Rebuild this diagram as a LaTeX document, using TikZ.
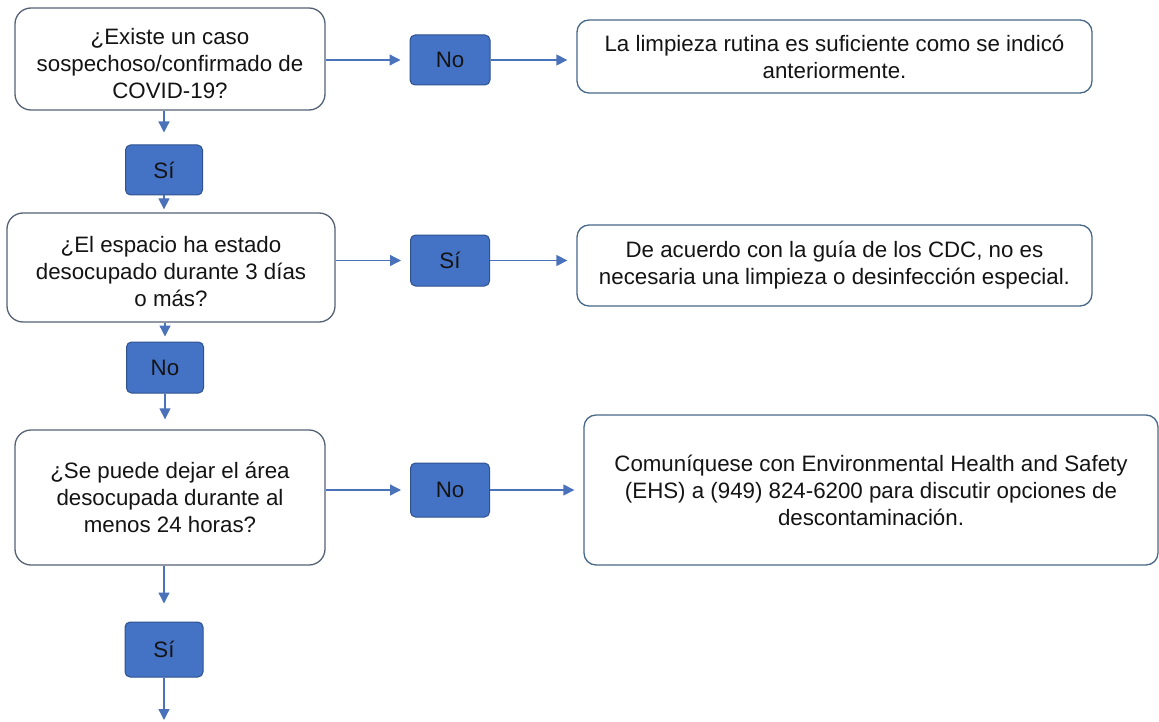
\documentclass[tikz,border=0pt]{standalone}
\usepackage{fontspec}
\setmainfont{Liberation Sans}
\usetikzlibrary{arrows.meta}
\definecolor{arr}{RGB}{74,114,186}
\definecolor{bfill}{RGB}{68,114,196}
\definecolor{bdraw}{RGB}{47,82,143}
\definecolor{qdraw}{RGB}{84,98,116}
\definecolor{rdraw}{RGB}{72,104,136}
\begin{document}
\begin{tikzpicture}[x=1pt,y=-1pt,
  every node/.style={font=\fontsize{22.3}{27}\selectfont, text=black!92, align=center, inner sep=0pt},
  qbox/.style={draw=qdraw, line width=1.3pt, rounded corners=16pt, fill=white},
  ans/.style={draw=bdraw, fill=bfill, line width=1pt, rounded corners=5pt},
  rbox/.style={draw=rdraw, line width=1.3pt, rounded corners=12pt, fill=white},
  conn/.style={draw=arr, line width=1.3pt, -{Triangle[length=11pt,width=11pt]}, shorten >=#1},
  conn/.default=9pt]
\useasboundingbox (0,0) rectangle (1159,722);
\node[qbox, minimum width=310pt, minimum height=102pt] (q1) at (170,59) {\rule{0pt}{26pt}¿Existe un caso\\sospechoso/confirmado de\\COVID-19?};
\node[ans, minimum width=80pt, minimum height=50pt] (n1) at (450,60) {No};
\node[rbox, minimum width=515pt, minimum height=73pt] (r1) at (834.5,56.5) {La limpieza rutina es suficiente como se indicó\\anteriormente.};
\node[ans, minimum width=77pt, minimum height=50pt] (s1) at (164,170) {Sí};
\node[qbox, minimum width=328pt, minimum height=109pt] (q2) at (171,267.5) {\rule{0pt}{24pt}¿El espacio ha estado\\desocupado durante 3 días\\o más?};
\node[ans, minimum width=79pt, minimum height=51pt] (s2) at (450,260.5) {Sí};
\node[rbox, minimum width=515pt, minimum height=81pt] (r2) at (834.5,265.5) {De acuerdo con la guía de los CDC, no es\\necesaria una limpieza o desinfección especial.};
\node[ans, minimum width=77pt, minimum height=51pt] (n2) at (165,367.5) {No};
\node[qbox, minimum width=310pt, minimum height=135pt] (q3) at (170,497.5) {¿Se puede dejar el área\\desocupada durante al\\menos 24 horas?};
\node[ans, minimum width=79pt, minimum height=54pt] (n3) at (450,490) {No};
\node[rbox, minimum width=574pt, minimum height=150pt] (r3) at (871,490) {Comuníquese con Environmental Health and Safety\\(EHS) a (949) 824-6200 para discutir opciones de\\descontaminación.};
\node[ans, minimum width=78pt, minimum height=55pt] (s3) at (164,649.5) {Sí};
\coordinate (end) at (164,722);
\draw[conn] (q1.east |- n1.west) -- (n1.west);
\draw[conn] (n1.east) -- (r1.west |- n1.east);
\draw[conn] (q2.east |- s2.west) -- (s2.west);
\draw[conn] (s2.east) -- (r2.west |- s2.east);
\draw[conn] (q3.east |- n3.west) -- (n3.west);
\draw[conn] (n3.east) -- (r3.west |- n3.east);
\draw[conn=12pt] (s1 |- q1.south) -- (s1.north);
\draw[conn=3pt] (s1.south) -- (s1 |- q2.north);
\draw[conn=5pt] (n2 |- q2.south) -- (n2.north);
\draw[conn=10pt] (n2.south) -- (n2 |- q3.north);
\draw[conn=18pt] (s3 |- q3.south) -- (s3.north);
\draw[conn=2pt] (s3.south) -- (end);
\end{tikzpicture}
\end{document}
